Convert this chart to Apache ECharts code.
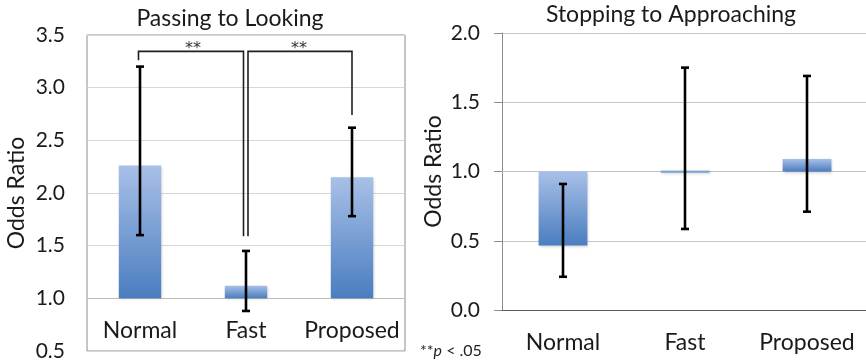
<!DOCTYPE html>
<html><head><meta charset="utf-8">
<script src="https://cdn.jsdelivr.net/npm/echarts@6/dist/echarts.min.js"></script>
<style>html,body{margin:0;padding:0;background:#fff}#c{width:866px;height:361px}</style>
</head><body><div id="c"></div>
<script>
// ---- data ----
const categories = ['Normal', 'Fast', 'Proposed'];
const leftTitle = 'Passing to Looking';
const rightTitle = 'Stopping to Approaching';
const yName = 'Odds Ratio';
const baseValue = 1.0;
const leftOdds = [2.26, 1.12, 2.15];
const leftLow = [1.60, 0.88, 1.78];
const leftHigh = [3.20, 1.45, 2.62];
const rightOdds = [0.465, 1.007, 1.09];
const rightLow = [0.24, 0.585, 0.71];
const rightHigh = [0.91, 1.75, 1.69];
const leftAxis = [0.5, 3.5, 0.5];   // min, max, step
const rightAxis = [0, 2, 0.5];
// significance brackets: [fromIdx, toIdx, fromEndY, topY, toEndY]
const sigBrackets = [[0, 1, 3.26, 3.345, 1.59], [1, 2, 1.59, 3.345, 2.74]];
const sigLabel = '**';
const sigLabelY = 3.41;
const footnote = ['**', 'p', '< .05'];

// ---- layout ----
const FONT = 'Lato';
const TXT = '#1a1a1a';
const L = {left: 87, right: 461, top: 35, bottom: 10};
const R = {left: 502, right: -2, top: 33, bottom: 51};
const lH = 361 - L.top - L.bottom, rH = 361 - R.top - R.bottom;
const lOff = -(baseValue - leftAxis[0]) / (leftAxis[1] - leftAxis[0]) * lH;
const rOff = -(baseValue - rightAxis[0]) / (rightAxis[1] - rightAxis[0]) * rH;

const grad = () => new echarts.graphic.LinearGradient(0, 0, 0, 1, [
  {offset: 0, color: '#a8c0e7'}, {offset: 1, color: '#4a7dc0'}]);

function barItem(params, api) {
  const i = api.value(0), v = api.value(1);
  const p0 = api.coord([i, baseValue]), p1 = api.coord([i, v]);
  const w = api.size([1, 0])[0] * 0.4;
  const y = Math.min(p0[1], p1[1]);
  const h = Math.max(Math.abs(p0[1] - p1[1]), 2);
  return {type: 'rect', shape: {x: p0[0] - w / 2, y: y, width: w, height: h},
    style: {fill: grad(), shadowColor: 'rgba(0,0,0,0.22)', shadowBlur: 3, shadowOffsetX: 1, shadowOffsetY: 1}};
}
function errItem(params, api) {
  const i = api.value(0);
  const lo = api.coord([i, api.value(1)]), hi = api.coord([i, api.value(2)]);
  const x = lo[0], c = 4;
  const st = {stroke: '#000', lineWidth: 2.6};
  return {type: 'group', children: [
    {type: 'line', shape: {x1: x, y1: lo[1], x2: x, y2: hi[1]}, style: st},
    {type: 'line', shape: {x1: x - c, y1: lo[1], x2: x + c, y2: lo[1]}, style: st},
    {type: 'line', shape: {x1: x - c, y1: hi[1], x2: x + c, y2: hi[1]}, style: st}
  ]};
}
function bracketItem(params, api) {
  const a = api.value(0), b = api.value(1);
  const k = params.dataIndex;
  const offA = k === 1 ? 2 : -1.5, offB = k === 0 ? -2.5 : 0;
  const pa = api.coord([a, api.value(2)]), pt = api.coord([a, api.value(3)]);
  const pb = api.coord([b, api.value(4)]);
  const xa = pa[0] + offA, xb = pb[0] + offB;
  const lab = api.coord([a, sigLabelY]);
  const mid = (api.coord([a, 0])[0] + api.coord([b, 0])[0]) / 2;
  return {type: 'group', children: [
    {type: 'polyline', shape: {points: [[xa, pa[1]], [xa, pt[1]], [xb, pt[1]], [xb, pb[1]]]},
      style: {stroke: '#231f20', lineWidth: 1.6, fill: null}},
    {type: 'text', x: mid, y: lab[1] + 4, style: {text: sigLabel, fill: '#333', fontSize: 16,
      fontFamily: 'DejaVu Sans', align: 'center', verticalAlign: 'middle'}}
  ]};
}

const yLab = {formatter: v => v.toFixed(1), fontSize: 21, color: TXT, fontFamily: FONT, margin: 22};
const xLab = {fontSize: 23, color: TXT, fontFamily: FONT, margin: 21, interval: 0};
const nameStyle = {fontSize: 23, color: TXT, fontFamily: FONT};

const chart = echarts.init(document.getElementById('c'));
chart.setOption({
  animation: false,
  backgroundColor: '#fff',
  grid: [
    Object.assign({show: true, borderColor: '#8c8c8c', borderWidth: 1, outerBoundsMode: 'none'}, L),
    Object.assign({outerBoundsMode: 'none'}, R)
  ],
  xAxis: [
    {gridIndex: 0, type: 'category', data: categories, position: 'bottom', offset: lOff,
      axisLine: {lineStyle: {color: '#bdbdbd'}}, axisTick: {length: 7, lineStyle: {color: '#bdbdbd'}},
      axisLabel: xLab},
    {gridIndex: 1, type: 'category', data: categories, position: 'bottom',
      axisLine: {lineStyle: {color: '#5a5a5a'}}, axisTick: {show: false}, axisLabel: Object.assign({}, xLab, {margin: 21})},
    {gridIndex: 1, type: 'category', data: categories, position: 'bottom', offset: rOff,
      axisLine: {lineStyle: {color: '#c4c4c4'}}, axisTick: {length: 7, lineStyle: {color: '#c4c4c4'}},
      axisLabel: {show: false}}
  ],
  yAxis: [
    {gridIndex: 0, type: 'value', min: leftAxis[0], max: leftAxis[1], interval: leftAxis[2],
      axisLine: {show: false}, axisTick: {show: false},
      splitLine: {lineStyle: {color: '#d6d6d6'}}, axisLabel: yLab,
      name: yName, nameLocation: 'middle', nameGap: 59, nameTextStyle: nameStyle},
    {gridIndex: 1, type: 'value', min: rightAxis[0], max: rightAxis[1], interval: rightAxis[2],
      axisLine: {show: true, lineStyle: {color: '#8c8c8c'}},
      axisTick: {show: true, length: 8, lineStyle: {color: '#8c8c8c'}},
      splitLine: {lineStyle: {color: '#c8c8c8'}}, axisLabel: yLab,
      name: yName, nameLocation: 'middle', nameGap: 57, nameTextStyle: nameStyle}
  ],
  series: [
    {type: 'custom', xAxisIndex: 0, yAxisIndex: 0, renderItem: barItem,
      data: categories.map((c, i) => [i, leftOdds[i]]), z: 2},
    {type: 'custom', xAxisIndex: 0, yAxisIndex: 0, renderItem: errItem,
      data: categories.map((c, i) => [i, leftLow[i], leftHigh[i]]), z: 3},
    {type: 'custom', xAxisIndex: 0, yAxisIndex: 0, renderItem: bracketItem,
      data: sigBrackets, z: 4},
    {type: 'custom', xAxisIndex: 1, yAxisIndex: 1, renderItem: barItem,
      data: categories.map((c, i) => [i, rightOdds[i]]), z: 2},
    {type: 'custom', xAxisIndex: 1, yAxisIndex: 1, renderItem: errItem,
      data: categories.map((c, i) => [i, rightLow[i], rightHigh[i]]), z: 3}
  ],
  graphic: [
    {type: 'text', x: 230, y: 19, style: {text: leftTitle, fontSize: 23, fontFamily: FONT, fill: TXT, align: 'center', verticalAlign: 'middle'}},
    {type: 'text', x: 671, y: 15, style: {text: rightTitle, fontSize: 23, fontFamily: FONT, fill: TXT, align: 'center', verticalAlign: 'middle'}},
    {type: 'text', x: 420, y: 351, style: {
      text: '{a|' + footnote[0] + '}{b|' + footnote[1] + '}{a| ' + footnote[2] + '}',
      verticalAlign: 'middle',
      rich: {a: {fontSize: 16, fontFamily: FONT, fill: '#222'}, b: {fontSize: 16, fontFamily: FONT, fill: '#222', fontStyle: 'italic'}}}}
  ]
});
</script></body></html>
